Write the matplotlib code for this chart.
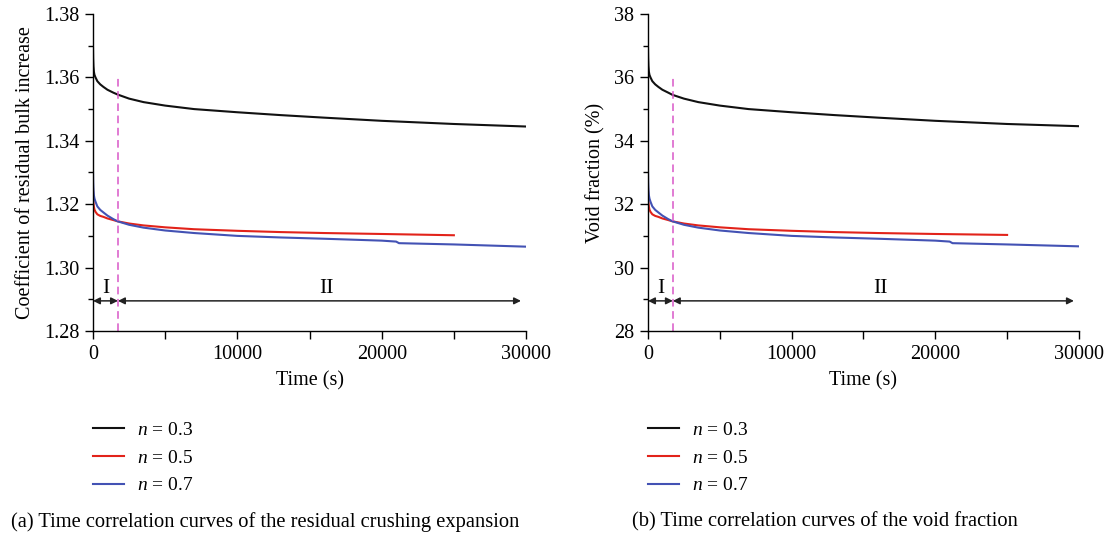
import matplotlib
matplotlib.use("Agg")
import matplotlib.pyplot as plt
from matplotlib.ticker import MultipleLocator, FuncFormatter

plt.rcParams["font.family"] = ["Liberation Serif", "DejaVu Serif"]
plt.rcParams["mathtext.fontset"] = "custom"
plt.rcParams["mathtext.it"] = "Liberation Serif:italic"
plt.rcParams["mathtext.rm"] = "Liberation Serif"

# ---- data -------------------------------------------------------------
t_n03 = [0, 10, 30, 60, 100, 170, 300, 500, 720, 1000, 1400, 1700, 2500,
         3500, 5000, 7000, 10000, 13000, 16000, 20000, 25000, 30000]
t_n05 = [0, 10, 30, 60, 100, 170, 300, 500, 720, 1000, 1400, 1700, 2500,
         3500, 5000, 7000, 10000, 13000, 16000, 20000, 25000]
t_n07 = [0, 10, 30, 60, 100, 170, 300, 500, 720, 1000, 1400, 1700, 2500,
         3500, 5000, 7000, 10000, 13000, 16000, 20000, 21000, 21200, 25000, 30000]

# coefficient of residual bulk increase
k_n03 = [1.3692, 1.3660, 1.3635, 1.3618, 1.3608, 1.3600, 1.3588, 1.3578, 1.3570,
         1.3561, 1.3552, 1.3546, 1.3533, 1.3522, 1.3511, 1.3500, 1.3490, 1.3481,
         1.3473, 1.3463, 1.3453, 1.3445]
k_n05 = [1.3248, 1.3225, 1.3205, 1.3192, 1.3183, 1.3176, 1.3168, 1.3163, 1.3160,
         1.3155, 1.3150, 1.3146, 1.3139, 1.3133, 1.3127, 1.3121, 1.3116, 1.3112,
         1.3109, 1.3106, 1.3102]
k_n07 = [1.3300, 1.3270, 1.3245, 1.3228, 1.3218, 1.3208, 1.3193, 1.3182, 1.3174,
         1.3164, 1.3153, 1.3146, 1.3135, 1.3126, 1.3117, 1.3109, 1.3100, 1.3095,
         1.3091, 1.3085, 1.3082, 1.3077, 1.3073, 1.3066]

# void fraction (%)
v_n03 = [36.92, 36.62, 36.36, 36.18, 36.08, 36.00, 35.88, 35.78, 35.70, 35.61,
         35.52, 35.45, 35.33, 35.22, 35.11, 35.00, 34.90, 34.81, 34.73, 34.63,
         34.53, 34.46]
v_n05 = [32.48, 32.25, 32.05, 31.92, 31.83, 31.76, 31.68, 31.63, 31.60, 31.55,
         31.50, 31.46, 31.39, 31.33, 31.27, 31.21, 31.16, 31.12, 31.09, 31.06, 31.03]
v_n07 = [33.00, 32.70, 32.45, 32.28, 32.18, 32.08, 31.93, 31.82, 31.74, 31.64,
         31.53, 31.46, 31.35, 31.26, 31.17, 31.09, 31.00, 30.95, 30.91, 30.85,
         30.82, 30.77, 30.73, 30.67]

series_labels = [r"$n$ = 0.3", r"$n$ = 0.5", r"$n$ = 0.7"]
stage_boundary = 1730          # end of stage I (s)
stage_end = 29650              # end of the stage II arrow (s)

colors = ["#111111", "#e2231a", "#4352b4"]
FS = 14.5

fig = plt.figure(figsize=(11.10, 5.38), dpi=100)
ax_a = fig.add_axes([0.0838, 0.3848, 0.3901, 0.5892])
ax_b = fig.add_axes([0.5838, 0.3848, 0.3882, 0.5892])


def draw_panel(ax, ys, ylim, ymajor, yminor, yfmt, ylabel, arrow_y, label_y, vline_top):
    for t, y, c, lab in zip([t_n03, t_n05, t_n07], ys, colors, series_labels):
        ax.plot(t, y, color=c, lw=1.5, label=lab)
    ax.plot([stage_boundary, stage_boundary], [ylim[0], vline_top], color="#d957c8",
            lw=1.1, dashes=(5, 3))
    ax.annotate("", xy=(0, arrow_y), xytext=(stage_boundary, arrow_y),
                arrowprops=dict(arrowstyle="<|-|>", color="#222222", lw=1.1,
                                shrinkA=0, shrinkB=0, mutation_scale=10))
    ax.annotate("", xy=(stage_end, arrow_y), xytext=(stage_boundary, arrow_y),
                arrowprops=dict(arrowstyle="<|-|>", color="#222222", lw=1.1,
                                shrinkA=0, shrinkB=0, mutation_scale=10))
    ax.text(870, label_y, "I", ha="center", va="center", fontsize=FS + 1)
    ax.text(16150, label_y, "II", ha="center", va="center", fontsize=FS + 1)

    ax.set_xlim(0, 30000)
    ax.set_ylim(*ylim)
    ax.xaxis.set_major_locator(MultipleLocator(5000))
    ax.xaxis.set_major_formatter(FuncFormatter(
        lambda v, p: f"{int(round(v))}" if round(v) % 10000 == 0 else ""))
    ax.yaxis.set_major_locator(MultipleLocator(ymajor))
    ax.yaxis.set_minor_locator(MultipleLocator(yminor))
    ax.yaxis.set_major_formatter(FuncFormatter(lambda v, p: yfmt.format(v)))
    ax.tick_params(axis="both", which="major", direction="out", length=6,
                   width=1.0, labelsize=FS, pad=4)
    ax.tick_params(axis="y", which="minor", direction="out", length=3.5, width=1.0)
    for s in ["top", "right"]:
        ax.spines[s].set_visible(False)
    for s in ["left", "bottom"]:
        ax.spines[s].set_linewidth(1.0)
    ax.set_xlabel("Time (s)", fontsize=FS, labelpad=5)
    ax.set_ylabel(ylabel, fontsize=FS, labelpad=6)


draw_panel(ax_a, [k_n03, k_n05, k_n07], (1.28, 1.38), 0.02, 0.01, "{:.2f}",
           "Coefficient of residual bulk increase", 1.2895, 1.2935, 1.360)
draw_panel(ax_b, [v_n03, v_n05, v_n07], (28, 38), 2, 1, "{:.0f}",
           "Void fraction (%)", 28.95, 29.35, 36.0)

for ax, x0 in [(ax_a, 0.0838), (ax_b, 0.5838)]:
    h, l = ax.get_legend_handles_labels()
    fig.legend(h, l, loc="upper left", bbox_to_anchor=(x0, 0.217), frameon=False,
               fontsize=FS - 0.5, handlelength=1.6, handletextpad=0.65,
               labelspacing=0.52, borderpad=0, borderaxespad=0)

fig.text(0.2385, 0.030, "(a) Time correlation curves of the residual crushing expansion",
         ha="center", va="center", fontsize=FS + 0.3)
fig.text(0.7430, 0.030, "(b) Time correlation curves of the void fraction",
         ha="center", va="center", fontsize=FS + 0.3)

fig.savefig("out.png", dpi=100)
